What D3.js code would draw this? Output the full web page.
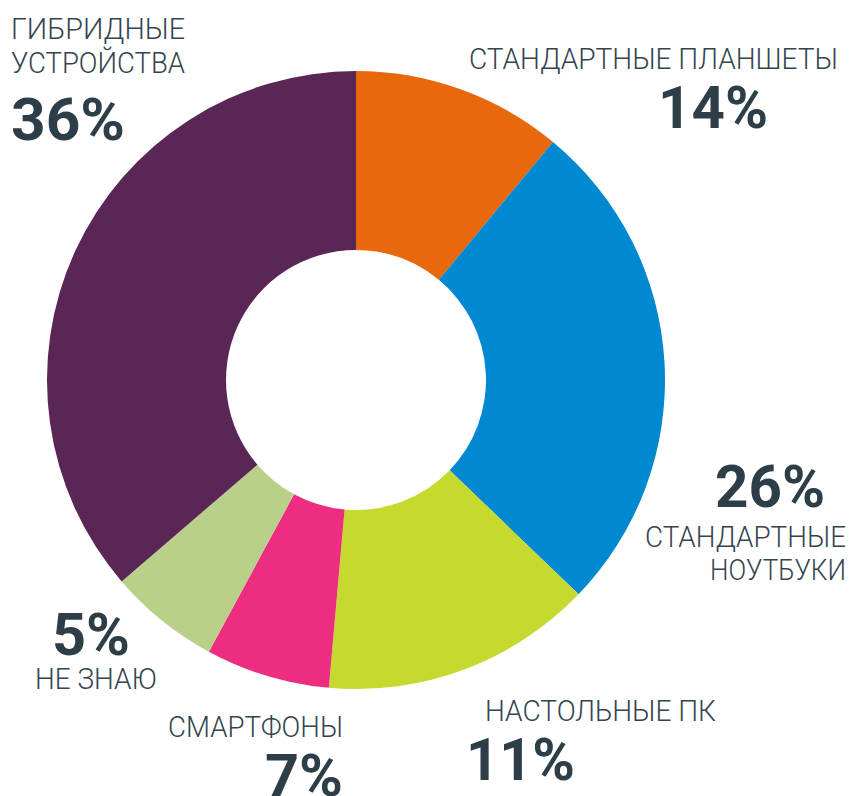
<!DOCTYPE html>
<html>
<head>
<meta charset="utf-8">
<script src="https://cdn.jsdelivr.net/npm/d3@7"></script>
<style>
  html, body { margin: 0; padding: 0; background: #fff; }
  .label { font-family: Roboto, "Noto Sans", sans-serif; font-weight: 300; font-size: 30px; fill: #34444f; }
  .pct { font-family: Roboto, "Noto Sans", sans-serif; font-weight: 700; font-size: 60px; fill: #2e3e48; }
</style>
</head>
<body>
<svg class="donut" width="851" height="796"></svg>
<script>
// slices clockwise from 12 o'clock
const categories = ["СТАНДАРТНЫЕ ПЛАНШЕТЫ", "СТАНДАРТНЫЕ НОУТБУКИ", "НАСТОЛЬНЫЕ ПК", "СМАРТФОНЫ", "НЕ ЗНАЮ", "ГИБРИДНЫЕ УСТРОЙСТВА"];
const shares = [11, 26.2, 14.2, 6.5, 5.8, 36.3];
const percentLabels = ["14%", "26%", "11%", "7%", "5%", "36%"];
const colors = ["#e8680c", "#0089d1", "#c6d92e", "#ec2d80", "#b9d08a", "#5a2656"];

function createChart() {
  const svg = d3.select(".donut");
  const cx = 356;
  const cy = 380;
  const outerRadius = 309;
  const innerRadius = 130;

  const pie = d3.pie().sort(null).value((d) => d);
  const arc = d3.arc().innerRadius(innerRadius).outerRadius(outerRadius);

  svg
    .append("g")
    .attr("transform", "translate(" + cx + "," + cy + ")")
    .selectAll("path")
    .data(pie(shares))
    .enter()
    .append("path")
    .attr("d", arc)
    .attr("fill", (_, i) => colors[i]);

  // hand placed label blocks: [text lines with x, baseline y, width]
  const layout = [
    { lines: [[0, 469, 69, 369]], pct: [658, 128, 110] },
    { lines: [[0, 645, 547, 201, "СТАНДАРТНЫЕ"], [0, 710, 580, 136, "НОУТБУКИ"]], pct: [715, 507, 110] },
    { lines: [[0, 485, 721, 231]], pct: [466, 780, 109] },
    { lines: [[0, 168, 737, 175]], pct: [265, 796, 78] },
    { lines: [[0, 35, 689, 122]], pct: [52, 655, 78] },
    { lines: [[0, 11, 39, 174, "ГИБРИДНЫЕ"], [0, 11, 73, 174, "УСТРОЙСТВА"]], pct: [11, 140, 114] },
  ];

  const labels = svg.append("g").attr("class", "labels");

  layout.forEach((item, i) => {
    item.lines.forEach((line) => {
      labels
        .append("text")
        .attr("class", "label")
        .attr("x", line[1])
        .attr("y", line[2])
        .attr("textLength", line[3])
        .attr("lengthAdjust", "spacingAndGlyphs")
        .text(line[4] || categories[i]);
    });
    labels
      .append("text")
      .attr("class", "pct")
      .attr("x", item.pct[0])
      .attr("y", item.pct[1])
      .attr("textLength", item.pct[2])
      .attr("lengthAdjust", "spacingAndGlyphs")
      .text(percentLabels[i]);
  });
}

createChart();
</script>
</body>
</html>
